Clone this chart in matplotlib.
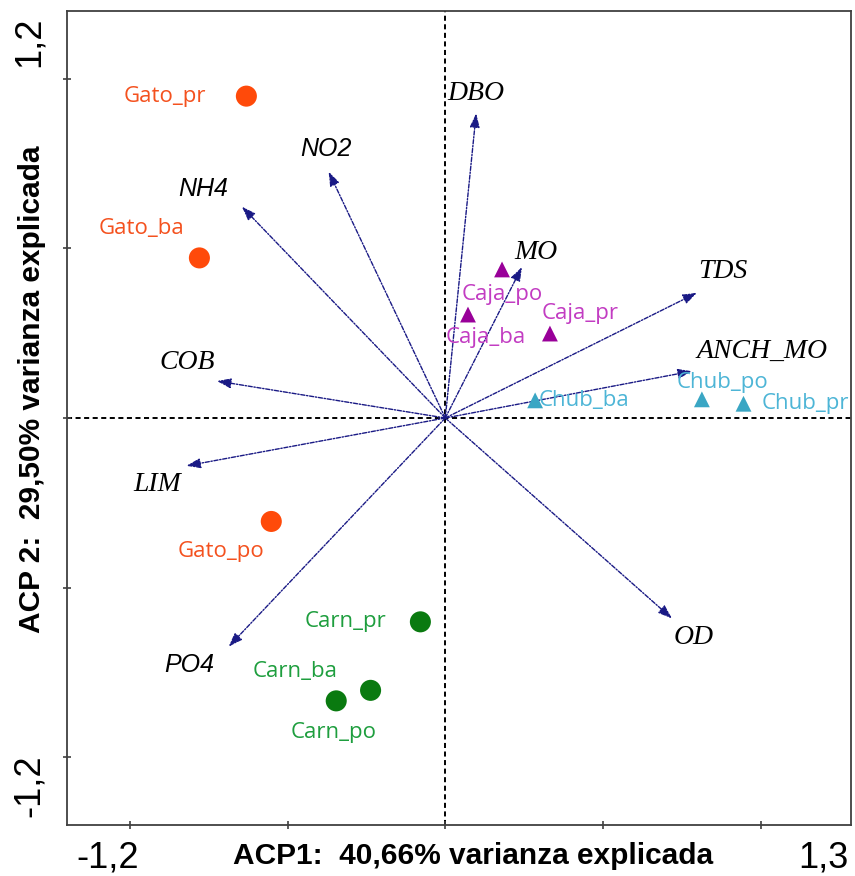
import numpy as np
import matplotlib
matplotlib.use('Agg')
import matplotlib.pyplot as plt

# sample scores (ACP1, ACP2)
sample_names = ['Gato_pr', 'Gato_ba', 'Gato_po',
                'Carn_pr', 'Carn_ba', 'Carn_po',
                'Caja_po', 'Caja_ba', 'Caja_pr',
                'Chub_ba', 'Chub_po', 'Chub_pr']
sample_x = [-0.631, -0.780, -0.552, -0.079, -0.237, -0.346,
            0.180, 0.072, 0.332, 0.285, 0.814, 0.946]
sample_y = [0.949, 0.472, -0.305, -0.601, -0.803, -0.834,
            0.438, 0.305, 0.249, 0.052, 0.055, 0.042]
sample_group = ['Gato'] * 3 + ['Carn'] * 3 + ['Caja'] * 3 + ['Chub'] * 3

# variable loadings
var_names = ['DBO', 'NO2', 'NH4', 'MO', 'TDS', 'ANCH_MO', 'COB', 'LIM', 'PO4', 'OD']
var_x = [0.098, -0.370, -0.645, 0.243, 0.798, 0.782, -0.724, -0.821, -0.687, 0.719]
var_y = [0.898, 0.726, 0.623, 0.445, 0.369, 0.138, 0.109, -0.141, -0.674, -0.591]

# label offsets in pixels (dx right, dy down)
sample_off = [(-81, 0), (-58, -29), (-50, 30), (-75, 0), (-75, -19), (-3, 32),
              (0, 25), (18, 23), (30, -20), (49, 0), (21, -17), (62, 0)]
var_off = [(0, -20), (-3, -23), (-39, -18), (14, -15), (26, -21), (70, -20),
           (-30, -19), (-29, 19), (-39, 18), (22, 19)]
sans_vars = ['NO2', 'NH4', 'PO4']

styles = {
    'Gato': dict(marker='o', color='#FF4A0A', s=230, text='#F4511E'),
    'Carn': dict(marker='o', color='#0A7A10', s=230, text='#1E9E3E'),
    'Caja': dict(marker='^', color='#990099', s=130, text='#C23CC2'),
    'Chub': dict(marker='^', color='#3AA6C4', s=130, text='#4DB5D6'),
}

W, H = 855, 876
fig = plt.figure(figsize=(W / 100, H / 100), dpi=100)
ax = fig.add_axes([67 / W, 1 - 825 / H, (851 - 67) / W, (825 - 11) / H])
ax.set_xlim(-1.2, 1.287)
ax.set_ylim(-1.2, 1.2)

ax.axhline(0, color='black', lw=1.4, dashes=(2.6, 1.8), zorder=1)
ax.axvline(0, color='black', lw=1.4, dashes=(2.6, 1.8), zorder=1)

# arrows
for name, x, y, (dx, dy) in zip(var_names, var_x, var_y, var_off):
    ax.annotate('', xy=(x, y), xytext=(0, 0),
                arrowprops=dict(arrowstyle='-|>,head_length=0.7,head_width=0.25',
                                color='#1a1a85', lw=1.0, linestyle=(0, (3, 1.2, 1, 1.2)),
                                shrinkA=0, shrinkB=0, mutation_scale=12), zorder=2)
    if name in sans_vars:
        fp = dict(family='Liberation Sans', style='italic', size=18)
    else:
        fp = dict(family='Liberation Serif', style='italic', size=20)
    ax.annotate(name, xy=(x, y), xytext=(dx * 0.72, -dy * 0.72),
                textcoords='offset points', ha='center', va='center',
                color='black', **fp)

# samples
for name, x, y, g, (dx, dy) in zip(sample_names, sample_x, sample_y, sample_group, sample_off):
    st = styles[g]
    ax.scatter(x, y, marker=st['marker'], s=st['s'], color=st['color'],
               edgecolors='none', zorder=3)
    ax.annotate(name, xy=(x, y), xytext=(dx * 0.72, -dy * 0.72),
                textcoords='offset points', ha='center', va='center',
                color=st['text'], family='Open Sans', size=16)

ax.set_xticks([-1, -0.5, 0, 0.5, 1])
ax.set_yticks([-1, -0.5, 0, 0.5, 1])
ax.set_xticklabels([])
ax.set_yticklabels([])
ax.tick_params(direction='inout', length=6, width=1.2, color='#404040')
for sp in ax.spines.values():
    sp.set_color('#404040')
    sp.set_linewidth(1.3)

# axis end labels and titles
tick_font = dict(family='Liberation Sans', size=26, color='black')
fig.text(108 / W, 1 - 858 / H, '-1,2', ha='center', va='center', **tick_font)
fig.text(823 / W, 1 - 858 / H, '1,3', ha='center', va='center', **tick_font)
fig.text(29 / W, 1 - 42 / H, '1,2', ha='center', va='center', rotation=90, **tick_font)
fig.text(29 / W, 1 - 786 / H, '-1,2', ha='center', va='center', rotation=90, **tick_font)

lab_font = dict(family='Liberation Sans', weight='bold', size=21.5, color='black')
fig.text(473 / W, 1 - 856 / H, 'ACP1:  40,66% varianza explicada',
         ha='center', va='center', **lab_font)
fig.text(32 / W, 1 - 389 / H, 'ACP 2:  29,50% varianza explicada',
         ha='center', va='center', rotation=90, **lab_font)

fig.savefig('out.png', dpi=100)
